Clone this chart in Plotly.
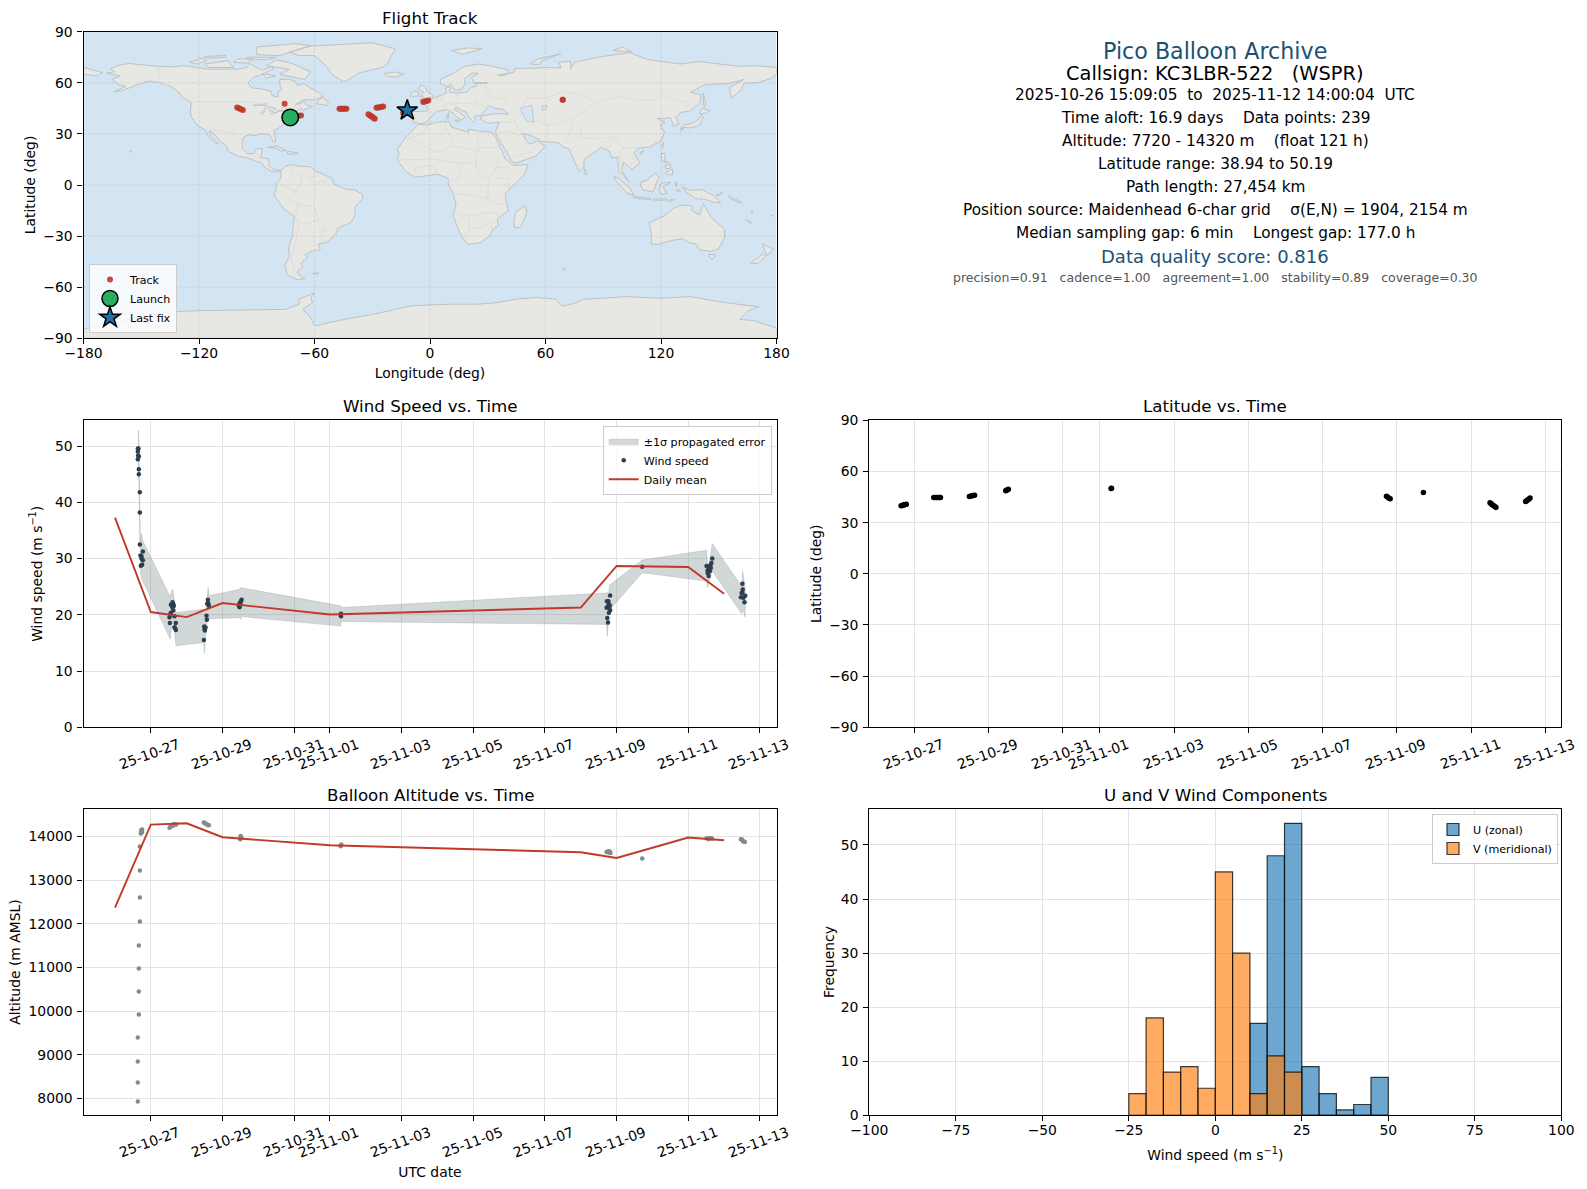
import pandas as pd
import plotly.graph_objects as go

FONT = "DejaVu Sans"
W, H = 1587, 1189
BASE = pd.Timestamp("2025-10-27")

# ---------- data ----------
tick_dates = ["2025-10-27", "2025-10-29", "2025-10-31", "2025-11-01", "2025-11-03",
              "2025-11-05", "2025-11-07", "2025-11-09", "2025-11-11", "2025-11-13"]
tick_labels = ["25-10-27", "25-10-29", "25-10-31", "25-11-01", "25-11-03",
               "25-11-05", "25-11-07", "25-11-09", "25-11-11", "25-11-13"]

# days are counted from 2025-10-27 00:00 UTC
wind_days = [-.345, -.363, -.363, -.354, -.335, -.363, -.335, -.335, -.307, -.307, -.307, -.289, -.261, -.261, -.223, -.223, -.242, -.279,
             .605, .624, .559, .596, .642, .605, .624, .559, .540, .661, .521, .531, .698, .661, .680, .698,
             1.592, 1.601, 1.574, 1.620, 1.555, 1.564, 1.490, 1.527, 1.499, 1.508, 1.480,
             2.533, 2.514, 2.477, 2.505, 2.458, 2.477,
             5.307, 5.307, 5.300,
             12.82, 12.77, 12.73, 12.785, 12.81, 12.72, 12.79, 12.82, 12.785, 12.74, 12.76, 12.77,
             13.715,
             15.67, 15.645, 15.615, 15.51, 15.585, 15.63, 15.54, 15.60, 15.54, 15.57,
             16.51, 16.52, 16.51, 16.47, 16.59, 16.54, 16.57, 16.49]
wind_speed = [49.58, 49.52, 49.05, 48.33, 48.15, 47.68, 45.89, 45.0, 41.79, 38.21, 32.5, 30.54, 30.42, 30.0, 31.25, 29.7, 28.93, 28.75,
              22.26, 21.96, 21.79, 21.67, 21.61, 21.37, 20.77, 20.36, 20.06, 19.76, 19.58, 18.57, 18.57, 17.8, 17.56, 17.32,
              22.68, 22.08, 21.96, 21.61, 19.82, 19.11, 17.92, 17.74, 17.5, 17.2, 15.54,
              22.68, 22.44, 22.08, 21.85, 21.61, 21.37,
              20.18, 19.76, 20.06,
              23.45, 22.44, 22.44, 21.85, 21.67, 21.25, 21.37, 20.83, 20.36, 19.46, 18.63, 21.67,
              28.57,
              30.0, 29.23, 28.81, 28.69, 28.51, 28.33, 27.92, 27.74, 27.44, 26.9,
              25.54, 24.52, 23.93, 23.15, 23.39, 23.04, 22.26, 23.87]

band_days = [-.363, -.335, -.307, -.289, -.26, -.223, .54, .596, .62, .67, .698, 1.48, 1.49, 1.527, 1.574, 1.60, 1.62,
             2.458, 2.514, 2.533, 5.30, 5.307, 12.72, 12.74, 12.77, 12.80, 13.715, 15.51, 15.54, 15.56, 15.67, 16.49, 16.52, 16.59]
band_upper = [52.75, 52.75, 39.0, 33.0, 34.4, 33.2, 23.2, 24.5, 24.4, 21.5, 20.4, 21.0, 20.5, 20.0, 23.5, 24.9, 23.4,
              24.5, 24.9, 24.8, 21.6, 21.3, 23.9, 24.0, 23.0, 25.3, 29.75, 31.5, 29.0, 28.0, 32.7, 25.0, 27.8, 24.6]
band_lower = [44.8, 44.0, 36.0, 27.3, 26.5, 26.0, 15.7, 18.5, 19.0, 16.5, 14.5, 15.1, 13.2, 15.5, 19.0, 19.3, 19.3,
              19.5, 19.2, 19.7, 18.0, 18.8, 18.3, 16.2, 18.5, 20.8, 27.5, 26.0, 24.9, 25.5, 27.8, 20.2, 21.0, 19.6]

mean_dates = ["2025-10-26", "2025-10-27", "2025-10-28", "2025-10-29", "2025-11-01",
              "2025-11-08", "2025-11-09", "2025-11-11", "2025-11-12"]
mean_wind = [37.3, 20.5, 19.6, 22.1, 20.06, 21.3, 28.7, 28.5, 23.75]
mean_alt = [12374, 14275, 14305, 13985, 13802, 13641, 13511, 13977, 13916]

alt_days = [-.363, -.363, -.363, -.363, -.335, -.335, -.335, -.335, -.307, -.307, -.307, -.307,
            -.279, -.261, -.242, -.261, -.270, -.242,
            .521, .568, .615, .652, .708, .642, .540, .596,
            1.480, 1.527, 1.564, 1.620, 1.592, 1.499,
            2.505, 2.505, 2.495, 2.524,
            5.317, 5.300,
            12.72, 12.785, 12.83, 12.77, 12.81,
            13.715,
            15.51, 15.585, 15.65, 15.56, 15.66,
            16.47, 16.52, 16.58, 16.50, 16.55]
alt_m = [7931, 8366, 8847, 9397, 9924, 10450, 10977, 11504, 12053, 12603, 13221, 13771,
         14069, 14122, 14160, 14092, 14145, 14107,
         14205, 14237, 14267, 14290, 14275, 14260, 14221, 14252,
         14321, 14298, 14275, 14260, 14267, 14313,
         14015, 13969, 13939, 13992,
         13817, 13779,
         13649, 13634, 13626, 13664, 13660,
         13496,
         13962, 13969, 13962, 13939, 13950,
         13939, 13901, 13878, 13932, 13890]

fix_days = [-.36, -.33, -.30, -.27, -.24, -.22,
            .52, .56, .60, .64, .67, .70,
            1.48, 1.51, 1.55, 1.58, 1.62,
            2.46, 2.48, 2.51, 2.53,
            5.30, 5.31,
            12.72, 12.75, 12.78, 12.82,
            13.715,
            15.51, 15.54, 15.57, 15.60, 15.64, 15.67,
            16.47, 16.50, 16.53, 16.56, 16.59]
fix_lat = [39.9, 40.1, 40.3, 40.5, 40.6, 40.8,
           44.8, 44.8, 44.8, 44.8, 44.8, 44.8,
           45.3, 45.5, 45.7, 45.9, 46.1,
           48.7, 49.0, 49.3, 49.6,
           50.0, 50.1,
           45.5, 45.0, 44.5, 44.0,
           47.7,
           41.6, 41.0, 40.5, 40.0, 39.4, 38.94,
           42.4, 42.9, 43.4, 43.9, 44.4]
fix_lon = [-72.6, -71.5, -70.4, -69.3, -68.2, -67.0,
           -47.0, -46.3, -45.6, -44.9, -44.1, -43.4,
           -27.8, -27.0, -26.1, -25.2, -24.3,
           -3.5, -2.7, -1.8, -0.9,
           68.9, 69.0,
           -100.2, -99.2, -98.2, -97.2,
           -75.5,
           -32.0, -31.3, -30.7, -30.0, -29.3, -28.7,
           -14.0, -13.4, -12.8, -12.3, -11.8]

launch_lon, launch_lat = [-72.6], [39.7]
last_lon, last_lat = [-11.8], [43.8]

hist_edges = [-25, -20, -15, -10, -5, 0, 5, 10, 15, 20, 25, 30, 35, 40, 45]
u_counts = [0, 0, 0, 0, 0, 0, 0, 17, 48, 54, 9, 4, 1, 2, 7]
v_counts = [4, 18, 8, 9, 5, 45, 30, 4, 11, 8, 0, 0, 0, 0, 0]

info_lines = [
    ("Pico Balloon Archive", 50.7, 22.2, "#1a5276"),
    ("Callsign: KC3LBR-522   (WSPR)", 73.3, 19.4, "#000000"),
    ("2025-10-26 15:09:05  to  2025-11-12 14:00:04  UTC", 95.0, 15.3, "#000000"),
    ("Time aloft: 16.9 days    Data points: 239", 117.7, 15.3, "#000000"),
    ("Altitude: 7720 - 14320 m    (float 121 h)", 141.0, 15.3, "#000000"),
    ("Latitude range: 38.94 to 50.19", 164.0, 15.3, "#000000"),
    ("Path length: 27,454 km", 187.0, 15.3, "#000000"),
    ("Position source: Maidenhead 6-char grid    σ(E,N) = 1904, 2154 m", 210.0, 15.3, "#000000"),
    ("Median sampling gap: 6 min    Longest gap: 177.0 h", 233.0, 15.3, "#000000"),
    ("Data quality score: 0.816", 256.7, 18.0, "#1a5276"),
    ("precision=0.91   cadence=1.00   agreement=1.00   stability=0.89   coverage=0.30", 277.7, 12.5, "#555555"),
]

# basemap outlines as lon, lat pairs
land_polygons = [
    # North America
    [-168,65.6,-164,66.5,-166,68.3,-162,70.2,-156.5,71.3,-150,70.5,-141,69.7,-135,69.3,-128,70,-124,69.5,-115,68,-108,68,-100,68,-95,69,-94,71.5,-90,69,-87,67.5,-82,69.5,-81.5,68,-87,65,-92,63,-94.5,60,-92.5,57,-88,56.5,-82.5,55,-82,52.5,-79,51.5,-79,54.5,-77,56,-78,58.5,-78,62,-73,62,-70,61,-69,58.5,-65.5,59.5,-62,57,-56,53,-56,51.7,-60,50,-66,50,-70,47,-65,49,-64.5,47,-61,46,-66,44,-67,45,-70.5,43,-70,41.7,-74,40.5,-75.5,38,-76,35.5,-78,33.8,-81,32,-80.5,28,-80,25.5,-81.5,25.5,-82.5,28,-84,30,-89,30,-90,29,-94,29.5,-97,28,-97.5,25,-97.5,21.5,-95,18.5,-91.5,18.5,-90.5,21,-87,21.5,-88,16,-84,15.5,-83.5,11,-81,9,-77.5,8.5,-80,7.5,-83,8.3,-85.5,10,-87.5,13,-92,14.5,-95,16,-100,17,-105,20,-105.5,22.5,-109,26,-113,31,-114.7,31.7,-114,29,-110,24,-112,25,-115,28.5,-117,32.5,-120.5,34.5,-124,40,-124.5,43,-124,48.5,-128,51,-131,55,-135,58,-140,60,-146,61,-152,59,-155,57.5,-160,55.5,-164,54.7,-158,58,-162,59,-165,62,-161,64],
    # Arctic Canada
    [-80,73.5,-72,71.5,-62,66.5,-65,62,-72,63.5,-78,65,-73,68,-85,70],
    [-117,71,-105,73,-102,69,-115,69],
    [-125,72,-118,74.5,-116,73,-121,71],
    [-90,76.5,-78,76,-62,82,-70,83,-90,81],
    [-95,75,-80,75,-85,73.5,-95,74],
    [-117,75.5,-106,76,-106,75,-117,74.5],
    [-100,74,-92,74,-95,71.5,-102,72],
    [-87,65.5,-80,64,-85,62.8],
    [-59,47.7,-53,46.7,-53,49,-56,51.5,-58,49.5],
    # Greenland, Iceland
    [-73,78,-68,76,-60,76,-54,70,-51,65,-45,60.5,-42,62,-37,65.7,-25,69,-22,71,-20,76,-18,80,-30,83.5,-50,82.5,-62,81.5],
    [-24,65.5,-18,66.3,-13.5,65,-18,63.4,-22,63.8],
    # Caribbean, Hawaii
    [-84.5,22,-80,23,-74.3,20.2,-77.5,20,-80,21.7],
    [-74,19.8,-68.5,18.8,-71,18,-74,18.3],
    [-156,20.2,-155,19.8,-155.6,19,-156,19.6],
    # South America
    [-77.5,8.5,-75,11,-72,12,-68,11,-62,10.7,-60,8.5,-55,6,-51,4,-50,0.5,-44,-2.5,-39,-3,-35,-5.5,-35,-8,-39,-13,-39,-18,-41,-22,-48,-25.5,-48.5,-28,-53,-33.5,-58,-34.5,-57,-38,-62,-39,-65,-41,-63.5,-42.5,-67,-46,-66,-48,-69,-51,-68.5,-52.5,-65,-55,-69,-55.5,-74,-53,-75.5,-47,-73,-42,-73.5,-37,-71.5,-30,-70.5,-18.5,-76,-14,-81,-6,-80,-2.5,-80,0.8,-77.5,4,-77.5,7],
    [-61,-52,-58,-51.5,-58.5,-52.3],
    # Africa, Madagascar
    [-6,35.8,-2,35.2,3,36.8,10,37.3,11,34,15,32.5,20,31,20,32.8,25,31.7,32,31,34,28,37,21,39,15.5,43,11.5,51,12,49,6,41.5,-2,39,-5,40.5,-15,35,-20,35.5,-24,32.7,-26,31,-30,26,-34,20,-34.8,18,-33,15,-27,12,-18,13.5,-11,12,-5,9.5,0,9.5,4,4,6.3,-4,5,-8,4.5,-13,8.5,-17,14.7,-16,19,-17,21,-13,27.5,-9.5,31.5],
    [49.3,-12,50.4,-16,47,-25,44,-25,43.5,-21,44.5,-16],
    # Eurasia
    [-5.5,36,-9,37,-9.3,43,-1.5,43.5,-1,46,-4.7,48.4,1.5,50.8,4,52,8.5,54,8,57,10.5,57.5,10,54.5,14,54,19,54.5,21,57,24,58,23.5,59.5,30,60,23,60,21.5,63,25,65.5,22,65.8,17.5,62,18.5,60,16.5,56.3,13,55.5,11,59,8,58,5.2,60,5.5,62,12,65.5,18,69.7,25,71,31,70,41,67.5,40,65.5,35,64.5,37,64,44,66.5,44,68.5,54,68.5,60,69,68,68.7,67,72,73,72.8,73,68,75,72,87,75,104,77.7,113,73.7,130,71,140,72.5,160,69.7,170,70,180,69,180,65,177,62.5,170,60,163,59.8,162,56,156.5,51,155.5,57,163,62,155,59.5,143,59,135.5,54.5,141,52.8,140,48,135,43.5,130,42.5,127.5,39.5,129.4,36,126.5,34.4,125,39.5,121.5,39,118,39,122,37,119.5,35,121.8,31,120,26,114,22.3,108,21.5,106,19,109,13,105,9,100.5,13.5,99.5,9,103.5,1.5,100.5,6,98,8,97.5,16.5,94.5,16,93,20,89,22,86.5,20,80,15,80,10.5,77.5,8,73,19,72.5,21,69,22.5,66.5,25,57,25.5,56.5,27,50,30,48,30,50,26,52,24,56,26,59.8,22.5,55,17,45,13,43,13,39,21,35,28,34,31.3,36,36.8,30,36.3,26.5,38.5,26.5,40.5,29,41,35,42,41,41.5,38,44.5,33.5,45,31,46.5,28,43,26,40.7,23,40.5,23.5,38,22.5,36.7,19.5,41,19,42.5,13.5,45.5,12.5,44.5,18.5,40,16,38,12,42,9,44.3,3.5,43.2,0,39.5,-2,36.8],
    [-180,69,-175,67.5,-170,66,-173,64,-178,65,-180,65],
    # European and Arctic islands
    [-5.5,50,1.3,51.3,1.7,52.7,-1,54.5,-2,56,-2,57.7,-5,58.6,-6,56,-3,54.5,-5,52,-3,51.4],
    [-10,52,-6,52.2,-6,54.5,-8,55.3,-10,54],
    [11,79,20,80.5,27,80,17,76.7],
    [52,71,56,74,68,77,58,73,57,70.7],
    [95,79,105,78,100,81],
    [9,41,9.7,42.5,9.5,39,8.5,39],
    [12.5,38,15.6,38.2,15,36.8],
    # East Asia
    [142,54,143,50,143,46,142,47,142,52],
    [131,34,135,33.5,140,35,142,39.5,141,41.3,139.5,38.5,136,36,132,35.3],
    [140,42,141.5,45.3,145.3,43.5,143,42],
    [130,31.5,131.8,33,130,33.5],
    [120.2,23,121.5,25.2,121,22],
    [109,19,111,20,110,18.2],
    [120,18.5,122,18.4,122,14,124,13,120.5,14],
    [122,7,126,9.5,126,6,123,6],
    [122,11.5,125,12,125,10,122.5,9.5],
    [80,9.7,82,7,80.5,6],
    # Indonesia, New Guinea, Pacific
    [109,1.5,113,3,117,7,119,5,117.5,1,116,-4,110.5,-3],
    [95.3,5.5,98,4,104,-2,106,-6,102,-4.5,97,2],
    [105.5,-6.7,114.5,-7.7,114.5,-8.7,106,-7.6],
    [120,1,125,1.5,121,-1,123,-5,120,-5.5,119,-3],
    [116,-8.2,123,-8.2,123,-8.9,116,-8.9],
    [124,-9,127,-8.4,124.5,-10],
    [128,-3,130,-3,130,-3.6,128,-3.5],
    [127.5,2,128.5,1,127.8,-0.8],
    [131,-1,135,-3.2,141,-2.7,147,-6,151,-10.5,147,-10,143,-8.5,138,-8,133,-4],
    [148.5,-6,152,-4.5,150,-6.3],
    [155,-6,157,-7.5,160,-9,162,-10.5,160,-10,156,-8],
    [167,-15,168,-16.5,167.5,-16.5],
    [164,-20,167,-22.3,166,-22.2],
    [177.5,-17.5,178.5,-18,177.5,-18.3],
    # Australia, New Zealand, Kerguelen
    [114,-22,122,-18,126,-14,130,-12,136,-12,136,-15,140,-17.5,142,-11,146,-19,153,-26,153,-31,150,-37.5,146,-39,140,-38,138,-34.5,135,-34,131,-31.5,124,-33,118,-35,115,-34.5,115,-30],
    [144.7,-40.8,148.3,-41,147,-43.5,146,-43.5],
    [172.7,-34.5,178.5,-37.7,175,-41.5,174,-39],
    [172.7,-40.5,174.3,-41.7,170.5,-46,166.5,-46],
    [69,-49,70.5,-49.5,69.5,-49.8],
    # Antarctica
    [-180,-84.5,-160,-80,-150,-77,-135,-74.5,-120,-73.8,-100,-73.5,-85,-73,-75,-73,-68,-70,-68,-67,-60,-63.5,-62,-66,-61,-69,-66,-73,-62,-78,-60,-82.7,-45,-79,-30,-76,-20,-73.5,-10,-71,0,-70.4,10,-70,25,-70,35,-69,45,-67,55.5,-66,65,-67,69,-71,75,-69.5,80,-67,90,-66.5,102,-65.5,110,-66,120,-66.5,135,-65.5,150,-68.5,160,-70,171,-71.5,165,-74,161,-79,168,-79.5,180,-84,180,-90,-180,-90],
]
water_polygons = [
    [47,45,53,46.8,53.5,40,54,37,50,37.3,49,40.5,47.5,43],
    [-92,46.7,-85,47.8,-85,46.6],
    [-87.8,42,-85,46,-86.5,42],
    [-84,46,-80,45,-82,43,-83.5,44],
    [-83,41.7,-79,42.9,-79,42.5],
    [-79.5,43.5,-76,44,-76.5,43.3],
    [58,46.5,61,46.5,60,44,58.5,44],
]
border_lines = [
    [-123,49,-95,49,-89,48,-84,46,-82.5,42,-79,43,-76,45,-71,45,-67.5,47.3,-67,45],
    [-141,69.7,-141,60,-135,58],
    [-117,32.5,-108,31.5,-106,31.5,-101,29.5,-97.5,26],
    [-92,14.5,-91,17.5,-89,18],
    [-70,-18,-68,-23,-70,-34,-72,-44,-70,-52],
    [-70.5,-18.5,-69,-16,-69,-11,-74,-8,-70,-4,-75,-1,-79,1.5],
    [-69,-11,-60,-13,-58,-20,-54,-26,-57.5,-30,-53,-33.5],
    [-68,-23,-62,-22,-58,-20],
    [-58,-27,-54,-26],
    [-72,12,-72,7,-67,6,-67,1,-70,-4],
    [-60,8.5,-60,5,-64,4,-60,1,-57,2,-54,2,-51,4],
    [-9,36,-8,42,-7,37],
    [-1.5,43.5,3,42.5],
    [2,51,6,50,8,48,7.5,44],
    [7,53.5,6,50],
    [14,54,15,51,12,48,17,48,23,48,28,46,30,46],
    [9,48,13,47,14,46,13.5,45.5],
    [23,54,24,52,24,48],
    [28,60,30,55,32,52,40,50,38,47],
    [48,46,50,51,60,51,70,55,77,53,87,49],
    [87,49,98,52,107,50,117,50,120,53,127,50,135,48,131,43],
    [87,49,80,43,74,39,79,33,78,28,88,27,92,28,97,28,98,24,101,22,106,22,108,21.5],
    [74,39,70,37,61,35,61,25],
    [74,39,74,34,70,24],
    [61,35,55,38,54,37],
    [44,37,44,40,46,41,48,41],
    [36,36.8,42,37,44,37,46,33,48,30],
    [34,29.5,39,32,42,31,47,29],
    [43,17,52,19,55,22,56,25],
    [92,22,89,26],
    [97,28,94,24,92,21],
    [98,10,99,15,98,20,101,22,105,18,107,15,103,11],
    [-2,35,-1,32,-9,28,-13,27.5],
    [-13,27.5,-5,25,3,19,12,23,10,30,8,33,8,37],
    [12,23,25,20,25,31.7],
    [25,22,37,22],
    [24,20,24,10,27,5,31,4,34,10,36,15],
    [34,10,42,11],
    [34,4,41,4,41,-2],
    [31,4,30,-2,30,-8,34,-11,40,-11],
    [13,-5,22,-6,30,-8],
    [12,-17,23,-18,30,-16,35,-17],
    [20,-18,20,-28,17,-29],
    [20,-25,26,-25,32,-22,32,-26],
    [-17,14.7,-12,15,-5,15,3,15,14,13,16,10,15,4,9.5,2],
    [-8,4.5,-8,10,-3,11,3,11,3,6],
    [14,13,24,13,24,10],
    [141,-2.7,141,-9],
]

# ---------- helpers ----------
def days_to_dates(values):
    return [(BASE + pd.Timedelta(days=v)).strftime("%Y-%m-%d %H:%M:%S") for v in values]

def xd(a, b):
    return [a / W, b / W]

def yd(top, bottom):
    return [1 - bottom / H, 1 - top / H]

def outline(polys, close=True):
    xs, ys = [], []
    for p in polys:
        xs += p[0::2] + ([p[0]] if close else []) + [None]
        ys += p[1::2] + ([p[1]] if close else []) + [None]
    return xs, ys

RED, NAVY, SLATE = "#c0392b", "#2c3e50", "#7f8c8d"
GRID = "#e2e2e2"
OCEAN = "#d3e5f2"
LEFT, RIGHT = (83.5, 776.5), (869.3, 1561.3)
ROW1, ROW2, ROW3 = (31.7, 338.3), (420.3, 727.3), (808.7, 1115.3)
WIND_RANGE = ["2025-10-25 02:54", "2025-11-13 11:06"]
LAT_RANGE = ["2025-10-25 18:48", "2025-11-13 10:21"]

fig = go.Figure()

# ---------- map ----------
lon_ticks = [-180, -120, -60, 0, 60, 120, 180]
lat_ticks = [-90, -60, -30, 0, 30, 60, 90]
lx, ly = outline(land_polygons)
fig.add_trace(go.Scatter(x=lx, y=ly, mode="lines", fill="toself", fillcolor="#e7e7e3",
                         line=dict(color="#bfc1c2", width=1), showlegend=False, hoverinfo="skip", xaxis="x", yaxis="y"))
bx, by = outline(border_lines, close=False)
fig.add_trace(go.Scatter(x=bx, y=by, mode="lines", line=dict(color="#dadad6", width=0.8),
                         showlegend=False, hoverinfo="skip", xaxis="x", yaxis="y"))
wx, wy = outline(water_polygons)
fig.add_trace(go.Scatter(x=wx, y=wy, mode="lines", fill="toself", fillcolor=OCEAN,
                         line=dict(color="#bfc1c2", width=0.8), showlegend=False, hoverinfo="skip", xaxis="x", yaxis="y"))
gx, gy = [], []
for v in lon_ticks[1:-1]:
    gx += [v, v, None]; gy += [-90, 90, None]
for v in lat_ticks[1:-1]:
    gx += [-180, 180, None]; gy += [v, v, None]
fig.add_trace(go.Scatter(x=gx, y=gy, mode="lines", line=dict(color="rgba(120,120,120,0.28)", width=0.7, dash="2px,2px"),
                         showlegend=False, hoverinfo="skip", xaxis="x", yaxis="y"))
fig.add_trace(go.Scatter(x=fix_lon, y=fix_lat, mode="markers", name="Track", legend="legend",
                         marker=dict(color=RED, size=6, opacity=0.9), xaxis="x", yaxis="y"))
fig.add_trace(go.Scatter(x=launch_lon, y=launch_lat, mode="markers", name="Launch", legend="legend",
                         marker=dict(color="#27ae60", size=16.5, line=dict(color="black", width=1.5)), xaxis="x", yaxis="y"))
fig.add_trace(go.Scatter(x=last_lon, y=last_lat, mode="markers", name="Last fix", legend="legend",
                         marker=dict(color="#1f6fa8", size=15.5, symbol="star", line=dict(color="black", width=1.5)), xaxis="x", yaxis="y"))

# ---------- wind ----------
bd = days_to_dates(band_days)
fig.add_trace(go.Scatter(x=bd + bd[::-1], y=band_upper + band_lower[::-1], mode="lines", fill="toself",
                         fillcolor="rgba(127,140,141,0.35)", line=dict(color="rgba(127,140,141,0.25)", width=1),
                         name="±1σ propagated error", legend="legend2", hoverinfo="skip", xaxis="x2", yaxis="y2"))
fig.add_trace(go.Scatter(x=days_to_dates(wind_days), y=wind_speed, mode="markers", name="Wind speed", legend="legend2",
                         marker=dict(color=NAVY, size=4.5), xaxis="x2", yaxis="y2"))
fig.add_trace(go.Scatter(x=mean_dates, y=mean_wind, mode="lines", name="Daily mean", legend="legend2",
                         line=dict(color=RED, width=1.9), xaxis="x2", yaxis="y2"))

# ---------- latitude ----------
fig.add_trace(go.Scatter(x=days_to_dates(fix_days), y=fix_lat, mode="markers", showlegend=False,
                         marker=dict(color="black", size=5.5), xaxis="x3", yaxis="y3"))

# ---------- altitude ----------
fig.add_trace(go.Scatter(x=days_to_dates(alt_days), y=alt_m, mode="markers", showlegend=False,
                         marker=dict(color=SLATE, size=4.5), xaxis="x4", yaxis="y4"))
fig.add_trace(go.Scatter(x=mean_dates, y=mean_alt, mode="lines", showlegend=False,
                         line=dict(color=RED, width=1.9), xaxis="x4", yaxis="y4"))

# ---------- histogram ----------
fig.add_trace(go.Bar(x=hist_edges, y=u_counts, width=5, offset=0, name="U (zonal)", legend="legend3",
                     marker=dict(color="rgba(31,119,180,0.65)", line=dict(color="rgba(0,0,0,0.75)", width=1.2)), xaxis="x5", yaxis="y5"))
fig.add_trace(go.Bar(x=hist_edges, y=v_counts, width=5, offset=0, name="V (meridional)", legend="legend3",
                     marker=dict(color="rgba(255,127,14,0.65)", line=dict(color="rgba(0,0,0,0.75)", width=1.2)), xaxis="x5", yaxis="y5"))

# ---------- axes ----------
def axis(domain, anchor, rng=None, title=None, standoff=None, **kw):
    d = dict(domain=domain, anchor=anchor, showline=True, mirror=True, linecolor="black", linewidth=1.1,
             ticks="outside", ticklen=5, tickwidth=1.1, tickcolor="black", showgrid=True, gridcolor=GRID,
             gridwidth=1.1, zeroline=False, automargin=False, tickfont=dict(family=FONT, size=13.9, color="black"))
    if rng is not None:
        d["range"] = rng
    if title:
        d["title"] = dict(text=title, font=dict(family=FONT, size=13.9, color="black"), standoff=standoff)
    d.update(kw)
    return d

date_kw = dict(type="date", tickmode="array", tickvals=tick_dates, showticklabels=False)
X_LABEL = dict(ticklabelstandoff=-3)
Y_LABEL = dict(ticklabelstandoff=2)

layout = dict(
    width=W, height=H, margin=dict(l=0, r=0, t=0, b=0), autosize=False,
    paper_bgcolor="white", plot_bgcolor="white", barmode="overlay",
    font=dict(family=FONT, color="black"), hovermode="closest",
    shapes=[dict(type="rect", xref="x", yref="y", x0=-180, x1=180, y0=-90, y1=90, layer="below",
                 fillcolor=OCEAN, line=dict(width=0))],
    xaxis=axis(xd(*LEFT), "y", [-180, 180], "Longitude (deg)", 8, tickmode="array", tickvals=lon_ticks, showgrid=False, **X_LABEL),
    yaxis=axis(yd(*ROW1), "x", [-90, 90], "Latitude (deg)", 4, tickmode="array", tickvals=lat_ticks, showgrid=False, **Y_LABEL),
    xaxis2=axis(xd(*LEFT), "y2", WIND_RANGE, **date_kw),
    yaxis2=axis(yd(*ROW2), "x2", [0, 54.6], "Wind speed (m s<sup>−1</sup>)", 9, tickmode="array", tickvals=[0, 10, 20, 30, 40, 50], **Y_LABEL),
    xaxis3=axis(xd(*RIGHT), "y3", LAT_RANGE, **date_kw),
    yaxis3=axis(yd(*ROW2), "x3", [-90, 90], "Latitude (deg)", 4, tickmode="array", tickvals=lat_ticks, **Y_LABEL),
    xaxis4=axis(xd(*LEFT), "y4", WIND_RANGE, "UTC date", 46, **date_kw),
    yaxis4=axis(yd(*ROW3), "x4", [7612, 14639], "Altitude (m AMSL)", 4, tickmode="array", tickformat="d",
                tickvals=[8000, 9000, 10000, 11000, 12000, 13000, 14000], **Y_LABEL),
    xaxis5=axis(xd(*RIGHT), "y5", [-100, 100], "Wind speed (m s<sup>−1</sup>)", 13, tickmode="array",
                tickvals=[-100, -75, -50, -25, 0, 25, 50, 75, 100], **X_LABEL),
    yaxis5=axis(yd(*ROW3), "x5", [0, 56.7], "Frequency", 2, tickmode="array", tickvals=[0, 10, 20, 30, 40, 50], **Y_LABEL),
)

def legend(px_x, px_y, xanchor, yanchor):
    return dict(x=px_x / W, y=1 - px_y / H, xanchor=xanchor, yanchor=yanchor,
                bgcolor="rgba(255,255,255,0.8)", bordercolor="#cccccc", borderwidth=1,
                font=dict(family=FONT, size=11.1, color="black"), tracegroupgap=0, itemclick=False, itemdoubleclick=False)

layout["legend"] = legend(89, 333, "left", "bottom")
layout["legend2"] = legend(771.7, 425.7, "right", "top")
layout["legend3"] = legend(1558, 814, "right", "top")

annotations = []
for text, left, top in [("Flight Track", LEFT, ROW1), ("Wind Speed vs. Time", LEFT, ROW2), ("Latitude vs. Time", RIGHT, ROW2),
                        ("Balloon Altitude vs. Time", LEFT, ROW3), ("U and V Wind Components", RIGHT, ROW3)]:
    annotations.append(dict(text=text, xref="paper", yref="paper", x=sum(left) / 2 / W, y=1 - top[0] / H, yshift=2,
                            xanchor="center", yanchor="bottom", showarrow=False, font=dict(family=FONT, size=16.67, color="black")))
for ax_name, bottom in [("x2", ROW2[1]), ("x3", ROW2[1]), ("x4", ROW3[1])]:
    for d, lab in zip(tick_dates, tick_labels):
        annotations.append(dict(text=lab, xref=ax_name, yref="paper", x=d, y=1 - bottom / H, yshift=-27, xshift=-1,
                                xanchor="center", yanchor="middle", textangle=-20, showarrow=False,
                                font=dict(family=FONT, size=13.9, color="black")))
for text, y, size, color in info_lines:
    annotations.append(dict(text=text, xref="paper", yref="paper", x=1215.3 / W, y=1 - y / H, xanchor="center", yanchor="middle",
                            showarrow=False, font=dict(family=FONT, size=size, color=color)))
layout["annotations"] = annotations

fig.update_layout(**layout)
fig.write_html("out.html", config={"displayModeBar": False}, post_script="document.body.style.margin='0';")
